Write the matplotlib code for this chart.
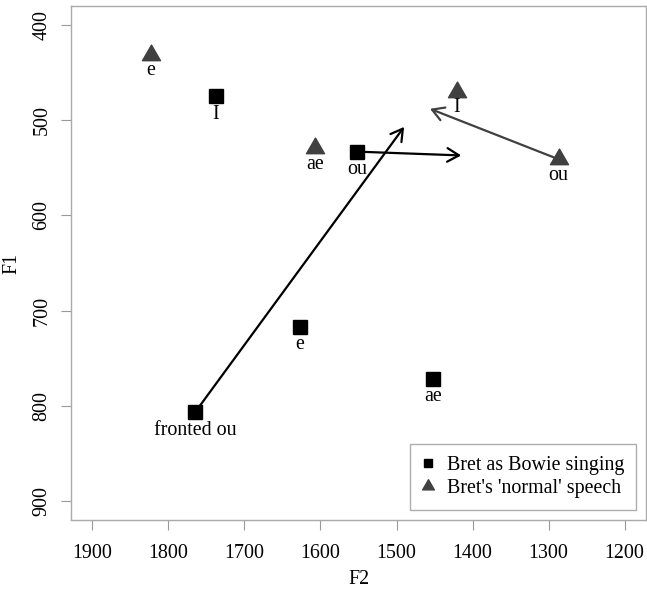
import matplotlib
matplotlib.use("Agg")
import matplotlib.pyplot as plt
from matplotlib.path import Path
import numpy as np

plt.rcParams['font.family'] = ['Liberation Serif', 'DejaVu Serif']

# Bret as Bowie singing (squares)
sing_labels = ["I", "ou", "e", "ae", "fronted ou"]
sing_f2 = [1738, 1552, 1627, 1452, 1765]
sing_f1 = [475, 533, 717, 772, 807]

# Bret's 'normal' speech (triangles)
speech_labels = ["e", "ae", "I", "ou"]
speech_f2 = [1823, 1607, 1421, 1287]
speech_f1 = [431, 529, 470, 541]

# Arrows: (start F2, start F1, end F2, end F1, colour)
arrow_from_f2 = [1765, 1552, 1287]
arrow_from_f1 = [807, 533, 541]
arrow_to_f2 = [1490, 1415, 1456]
arrow_to_f1 = [507, 537, 488]
arrow_colors = ["black", "black", "#404040"]

xticks = [1900, 1800, 1700, 1600, 1500, 1400, 1300, 1200]
yticks = [400, 500, 600, 700, 800, 900]

W, H = 647, 591
fig = plt.figure(figsize=(W / 100, H / 100), dpi=100)
ax = fig.add_axes([71 / W, 1 - 520 / H, 575 / W, 514 / H])

tri = Path([(-1, -0.5774), (1, -0.5774), (0, 1.1547), (-1, -0.5774)],
           [Path.MOVETO, Path.LINETO, Path.LINETO, Path.CLOSEPOLY])

fs = 14.4
ax.plot(sing_f2, sing_f1, linestyle='none', marker='s', ms=9.4,
        color='black', label='Bret as Bowie singing', zorder=3)
ax.plot(speech_f2, speech_f1, linestyle='none', marker=tri, ms=15,
        color='#404040', label="Bret's 'normal' speech", zorder=3)

for x, y, t in zip(sing_f2, sing_f1, sing_labels):
    ax.annotate(t, (x, y), xytext=(0, -16), textcoords='offset points',
                ha='center', va='baseline', fontsize=fs)
for x, y, t in zip(speech_f2, speech_f1, speech_labels):
    ax.annotate(t, (x, y), xytext=(0, -15), textcoords='offset points',
                ha='center', va='baseline', fontsize=fs)

for x0, y0, x1, y1, c in zip(arrow_from_f2, arrow_from_f1, arrow_to_f2, arrow_to_f1, arrow_colors):
    ax.annotate('', xy=(x1, y1), xytext=(x0, y0),
                arrowprops=dict(arrowstyle='->,head_length=0.6,head_width=0.35',
                                mutation_scale=14, lw=1.6, color=c,
                                shrinkA=0, shrinkB=0), zorder=2)

ax.set_xlim(1928, 1172)
ax.set_ylim(920, 380)
ax.set_xticks(xticks)
ax.set_yticks(yticks)
ax.set_yticklabels([str(v) for v in yticks], rotation=90, va='center')
ax.tick_params(axis='both', labelsize=fs, length=7.2, width=0.8,
               color='#999999', direction='out')
ax.tick_params(axis='x', pad=10)
ax.tick_params(axis='y', pad=7)
for s in ax.spines.values():
    s.set_color('#aaaaaa')
    s.set_linewidth(1.0)

ax.set_xlabel('F2', fontsize=fs)
ax.set_ylabel('F1', fontsize=fs)
ax.xaxis.set_label_coords(0.5, -0.097)
ax.yaxis.set_label_coords(-0.087, 0.5)

leg = ax.legend(loc='lower right', fontsize=fs, frameon=True, fancybox=False,
                borderaxespad=0.5, handlelength=0.6, handletextpad=0.65,
                borderpad=0.6, labelspacing=0.2, markerscale=0.65)
leg.get_frame().set_edgecolor('#999999')
leg.get_frame().set_linewidth(1.0)

fig.savefig('out.png', dpi=100)
